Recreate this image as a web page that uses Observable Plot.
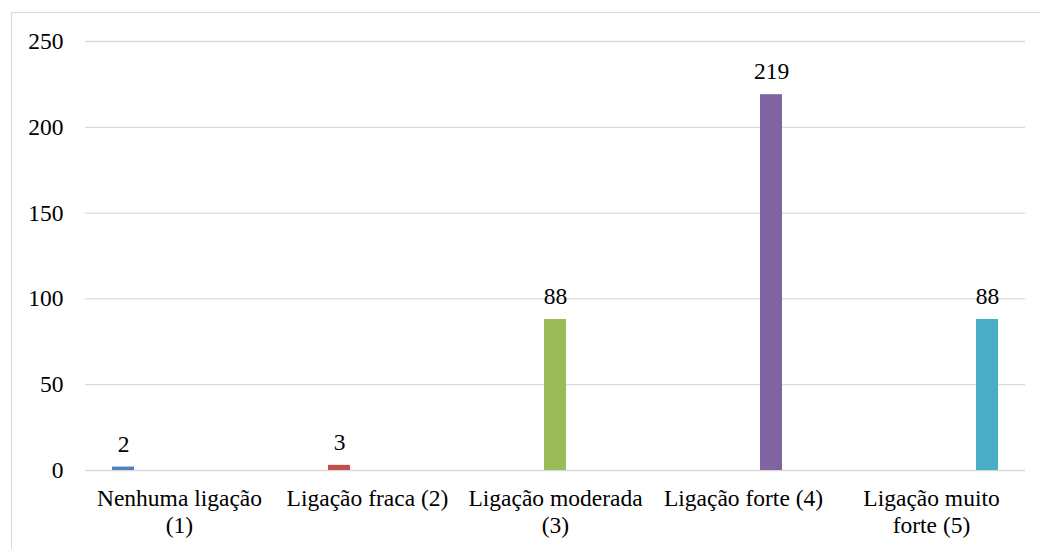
<!DOCTYPE html>
<html>
<head>
<meta charset="utf-8">
<script src="https://cdn.jsdelivr.net/npm/d3@7"></script>
<script src="https://cdn.jsdelivr.net/npm/@observablehq/plot@0.6"></script>
<style>
  html, body { margin: 0; padding: 0; background: #fff; overflow: hidden; }
  #wrap { position: relative; width: 1040px; height: 549px; }
  #border { position: absolute; left: 11px; top: 12px; width: 1040px; height: 560px; border: 1px solid #d9d9d9; box-sizing: border-box; }
  #chart { position: absolute; left: 0; top: 0; }
  #chart svg, #chart svg text { font-family: "Liberation Serif", "Tinos", "Times New Roman", Times, "DejaVu Serif", serif !important; }
</style>
</head>
<body>
<div id="wrap"><div id="border"></div><div id="chart"></div></div>
<script>
const categories = ["Nenhuma ligação (1)", "Ligação fraca (2)", "Ligação moderada (3)", "Ligação forte (4)", "Ligação muito forte (5)"];
const categoryLabels = ["Nenhuma ligação\n(1)", "Ligação fraca (2)", "Ligação moderada\n(3)", "Ligação forte (4)", "Ligação muito\nforte (5)"];
const values = [2, 3, 88, 219, 88];
const colors = ["#4f81bd", "#c0504d", "#9bbb59", "#8064a2", "#4bacc6"];
const yTicks = [0, 50, 100, 150, 200, 250];

const data = categories.map((c, i) => ({category: c, series: c, value: values[i]}));
const labelOf = new Map(categories.map((c, i) => [c, categoryLabels[i]]));
const font = "Liberation Serif, Times New Roman, DejaVu Serif, serif";

const chart = Plot.plot({
  width: 1040,
  height: 549,
  marginLeft: 85,
  marginRight: 15,
  marginTop: 41,
  marginBottom: 79,
  style: "font-size: 23.5px; color: #000; background: transparent;",
  fx: {domain: categories, padding: 0},
  x: {domain: categories, paddingInner: 0.2, paddingOuter: 0.85, axis: null},
  y: {domain: [0, 250]},
  color: {domain: categories, range: colors},
  marks: [
    Plot.gridY(yTicks, {stroke: "#d9d9d9", strokeOpacity: 1, strokeWidth: 1.3}),
    Plot.axisY({ticks: yTicks, tickSize: 0, tickPadding: 22, label: null, fontSize: 23.5, fontFamily: font}),
    Plot.axisFx({anchor: "bottom", tickSize: 0, tickPadding: 17, label: null, tickFormat: d => labelOf.get(d), lineHeight: 1.12, fontSize: 23.5, fontFamily: font}),
    Plot.barY(data, {fx: "category", x: "series", y: "value", fill: "series"}),
    Plot.text(data, {fx: "category", x: "series", y: "value", text: d => String(d.value), dy: -23, fill: "#000", fontSize: 23.5, fontFamily: font})
  ]
});
document.getElementById("chart").appendChild(chart);
</script>
</body>
</html>
